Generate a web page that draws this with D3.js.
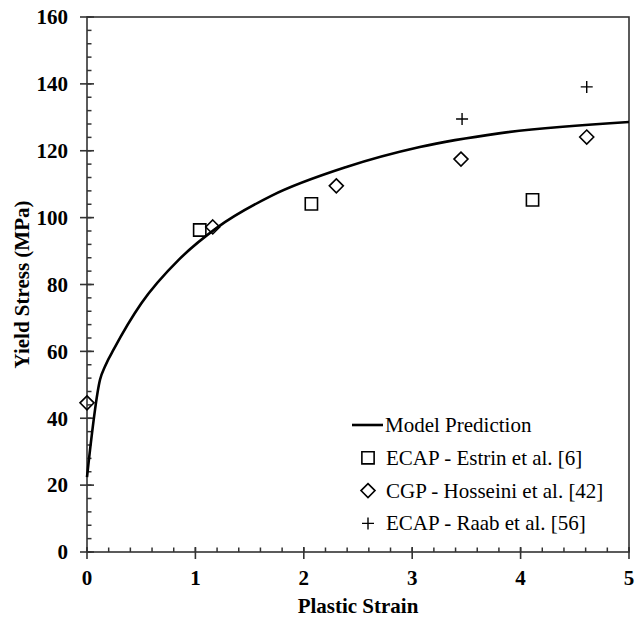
<!DOCTYPE html>
<html>
<head>
<meta charset="utf-8">
<script src="https://cdn.jsdelivr.net/npm/d3@7"></script>
<style>
  body { margin: 0; background: #fff; }
  svg text { font-family: "Liberation Serif", "Times New Roman", serif; fill: #000; }
</style>
</head>
<body>
<svg id="chart" width="635" height="620"></svg>
<script>
// model curve
var modelStrain = [0, 0.12, 0.17, 0.25, 0.50, 0.85, 1.20, 1.70, 2.40, 3.07, 3.80, 5.00];
var modelStress = [22.4, 51.5, 55.8, 60.8, 74.3, 87.5, 97.0, 106.5, 115.2, 121.1, 125.2, 128.6];

// ECAP - Estrin et al. [6]
var estrinStrain = [1.04, 2.07, 4.11];
var estrinStress = [96.3, 104.1, 105.3];

// CGP - Hosseini et al. [42]
var hosseiniStrain = [0, 1.16, 2.30, 3.45, 4.61];
var hosseiniStress = [44.6, 97.2, 109.5, 117.5, 124.1];

// ECAP - Raab et al. [56]
var raabStrain = [3.46, 4.61];
var raabStress = [129.5, 139.1];

var xTicks = [0, 1, 2, 3, 4, 5];
var yTicks = [0, 20, 40, 60, 80, 100, 120, 140, 160];

var legendLabels = ["Model Prediction", "ECAP - Estrin et al. [6]", "CGP - Hosseini et al. [42]", "ECAP - Raab et al. [56]"];

var svg = d3.select("#chart");
var margin = {left: 87, top: 17, right: 6, bottom: 68};
var W = 635, H = 620;
var serif = "'Liberation Serif', 'Times New Roman', serif";

var x = d3.scaleLinear().domain([0, 5]).range([margin.left, W - margin.right]);
var y = d3.scaleLinear().domain([0, 160]).range([H - margin.bottom, margin.top]);

var axisColor = "#333";

// frame
svg.append("rect")
  .attr("x", x(0)).attr("y", y(160))
  .attr("width", x(5) - x(0)).attr("height", y(0) - y(160))
  .attr("fill", "none").attr("stroke", axisColor).attr("stroke-width", 1.6);

// minor ticks
var xMinor = d3.range(0, 5.001, 0.2);
var yMinor = d3.range(0, 160.001, 4);
svg.append("g").selectAll("line").data(xMinor).enter().append("line")
  .attr("x1", d => x(d)).attr("x2", d => x(d))
  .attr("y1", y(0)).attr("y2", y(0) - 4.5)
  .attr("stroke", axisColor).attr("stroke-width", 1.5);
svg.append("g").selectAll("line").data(yMinor).enter().append("line")
  .attr("x1", x(0)).attr("x2", x(0) + 4.5)
  .attr("y1", d => y(d)).attr("y2", d => y(d))
  .attr("stroke", axisColor).attr("stroke-width", 1.5);

// major ticks (cross the axis)
svg.append("g").selectAll("line").data(xTicks).enter().append("line")
  .attr("x1", d => x(d)).attr("x2", d => x(d))
  .attr("y1", y(0) - 5).attr("y2", y(0) + 7)
  .attr("stroke", axisColor).attr("stroke-width", 1.6);
svg.append("g").selectAll("line").data(yTicks).enter().append("line")
  .attr("x1", x(0) - 7).attr("x2", x(0) + 7)
  .attr("y1", d => y(d)).attr("y2", d => y(d))
  .attr("stroke", axisColor).attr("stroke-width", 1.6);

// tick labels
svg.append("g").selectAll("text").data(xTicks).enter().append("text")
  .attr("x", d => x(d)).attr("y", y(0) + 33)
  .attr("text-anchor", "middle")
  .attr("font-family", serif)
  .attr("font-size", "21px").attr("font-weight", "bold")
  .text(d => d);
svg.append("g").selectAll("text").data(yTicks).enter().append("text")
  .attr("x", x(0) - 19).attr("y", d => y(d))
  .attr("dy", "0.35em")
  .attr("text-anchor", "end")
  .attr("font-family", serif)
  .attr("font-size", "21px").attr("font-weight", "bold")
  .text(d => d);

// axis titles
svg.append("text")
  .attr("x", (x(0) + x(5)) / 2).attr("y", 613)
  .attr("text-anchor", "middle")
  .attr("font-family", serif)
  .attr("font-size", "21px").attr("font-weight", "bold")
  .text("Plastic Strain");
svg.append("text")
  .attr("transform", "translate(29," + ((y(0) + y(160)) / 2) + ") rotate(-90)")
  .attr("text-anchor", "middle")
  .attr("font-family", serif)
  .attr("font-size", "21px").attr("font-weight", "bold")
  .text("Yield Stress (MPa)");

// model curve
var model = modelStrain.map(function(s, i) { return {x: s, y: modelStress[i]}; });
var line = d3.line()
  .x(d => x(d.x)).y(d => y(d.y))
  .curve(d3.curveMonotoneX);
svg.append("path")
  .datum(model)
  .attr("d", line)
  .attr("fill", "none").attr("stroke", "#000").attr("stroke-width", 2.6);

// markers
var sq = d3.symbol().type(d3.symbolSquare).size(150);
var dm = function(cx, cy) {
  var r = 7;
  return "M" + cx + "," + (cy - r) + "L" + (cx + r) + "," + cy + "L" + cx + "," + (cy + r) + "L" + (cx - r) + "," + cy + "Z";
};
var plus = function(cx, cy) {
  var r = 6;
  return "M" + (cx - r) + "," + cy + "H" + (cx + r) + "M" + cx + "," + (cy - r) + "V" + (cy + r);
};

svg.append("g").selectAll("path").data(estrinStrain).enter().append("path")
  .attr("transform", (d, i) => "translate(" + x(d) + "," + y(estrinStress[i]) + ")")
  .attr("d", sq)
  .attr("fill", "none").attr("stroke", "#000").attr("stroke-width", 1.6);

svg.append("g").selectAll("path").data(hosseiniStrain).enter().append("path")
  .attr("d", (d, i) => dm(x(d), y(hosseiniStress[i])))
  .attr("fill", "none").attr("stroke", "#000").attr("stroke-width", 1.6);

svg.append("g").selectAll("path").data(raabStrain).enter().append("path")
  .attr("d", (d, i) => plus(x(d), y(raabStress[i])))
  .attr("fill", "none").attr("stroke", "#000").attr("stroke-width", 1.4);

// legend
var lg = svg.append("g").attr("transform", "translate(352,425)");
var rowH = 32.8;
lg.append("line").attr("x1", 0).attr("x2", 31).attr("y1", 0).attr("y2", 0)
  .attr("stroke", "#000").attr("stroke-width", 2.6);
lg.append("path").attr("transform", "translate(16," + rowH + ")").attr("d", sq)
  .attr("fill", "none").attr("stroke", "#000").attr("stroke-width", 1.6);
lg.append("path").attr("d", dm(16, rowH * 2))
  .attr("fill", "none").attr("stroke", "#000").attr("stroke-width", 1.6);
lg.append("path").attr("d", plus(16, rowH * 3))
  .attr("fill", "none").attr("stroke", "#000").attr("stroke-width", 1.4);
lg.selectAll("text").data(legendLabels).enter().append("text")
  .attr("x", (d, i) => i === 0 ? 33 : 34)
  .attr("y", (d, i) => i * rowH)
  .attr("dy", "0.33em")
  .attr("font-family", serif)
  .attr("font-size", "21px")
  .text(d => d);
</script>
</body>
</html>
